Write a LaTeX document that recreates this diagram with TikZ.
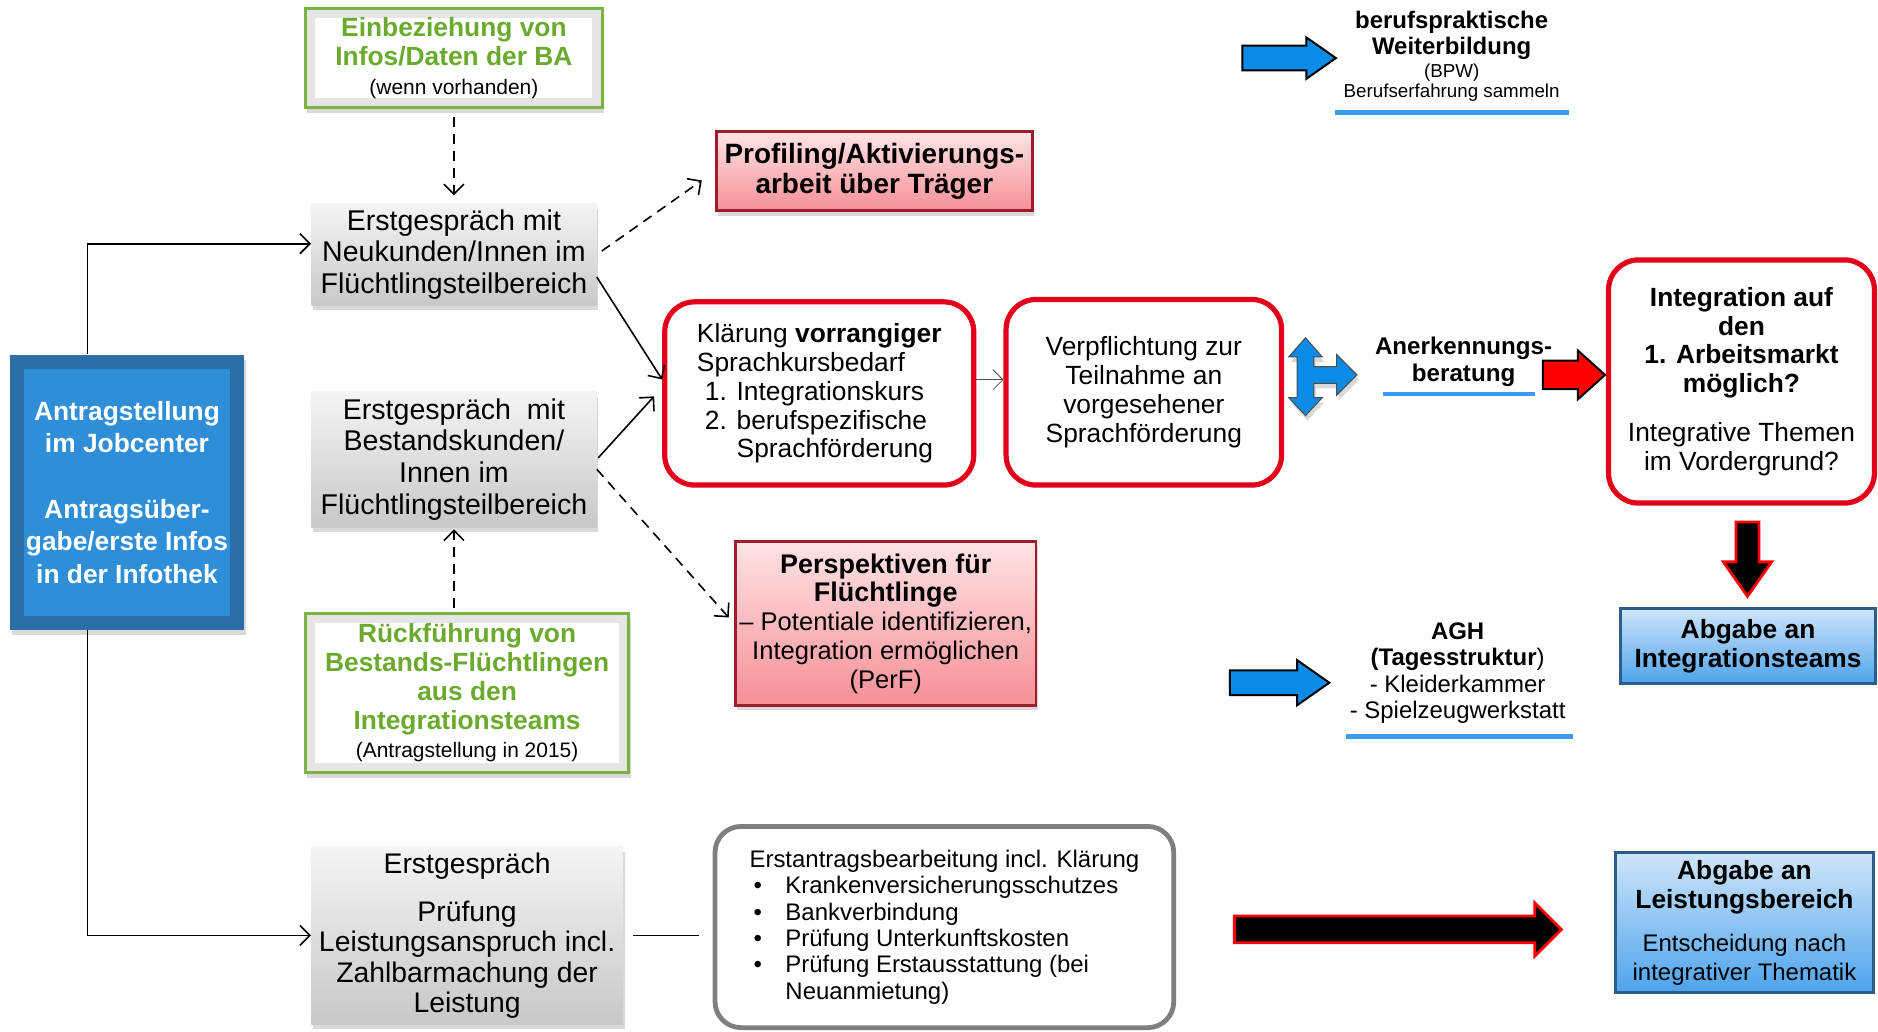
\documentclass[tikz,border=0pt]{standalone}
\usepackage{fontspec}
\setmainfont{Liberation Sans}
\usepackage{tikz}
\usetikzlibrary{arrows.meta,shapes.arrows,shadows,calc,positioning}

\definecolor{antrand}{HTML}{2B6EA8}
\definecolor{antblau}{HTML}{2E8FD8}
\definecolor{gruenrand}{HTML}{79B443}
\definecolor{gruentext}{HTML}{6AAB2D}
\definecolor{graulicht}{HTML}{F4F4F4}
\definecolor{graudunkel}{HTML}{C8C8C8}
\definecolor{rosa}{HTML}{FFE4E6}
\definecolor{rosadunkel}{HTML}{F58F96}
\definecolor{dunkelrot}{HTML}{9E1C2B}
\definecolor{signalrot}{HTML}{E2001A}
\definecolor{hellblau}{HTML}{CFE5F9}
\definecolor{mittelblau}{HTML}{4DA3EC}
\definecolor{blaurand}{HTML}{2C5E8C}
\definecolor{pfeilblau}{HTML}{0A8BE6}
\definecolor{balkenblau}{HTML}{3A9AF5}
\definecolor{rahmengrau}{HTML}{7F7F7F}

\newcommand{\aufz}{\hspace*{2pt}\makebox[16pt][l]{\textbullet}}
\newcommand{\klein}{\fontsize{10.5}{13}\selectfont}

\tikzset{
  abm/.style 2 args={minimum width=#1*0.6pt, minimum height=#2*0.6pt},
  schatten/.style={drop shadow={shadow xshift=1pt, shadow yshift=-2.5pt, opacity=0.3}},
  antragbox/.style={fill=antrand, inner sep=2pt, align=center, text=white,
    font=\bfseries\fontsize{13.2}{16.2}\selectfont, schatten,
    path picture={\fill[antblau] ([shift={(7pt,-7pt)}]path picture bounding box.north west)
      rectangle ([shift={(-7pt,7pt)}]path picture bounding box.south east);}},
  gruenbox/.style={fill=white, draw=gruenrand, line width=1.6pt, align=center, text=gruentext,
    font=\bfseries\fontsize{13.2}{14.4}\selectfont, schatten,
    path picture={\draw[black!10, line width=5pt] ([shift={(2.5pt,-2.5pt)}]path picture bounding box.north west)
      rectangle ([shift={(-2.5pt,2.5pt)}]path picture bounding box.south east);}},
  graubox/.style={top color=graulicht, bottom color=graudunkel, inner sep=2pt, align=center,
    font=\fontsize{14.3}{15.8}\selectfont, schatten},
  rotbox/.style={top color=rosa, bottom color=rosadunkel, draw=dunkelrot, line width=1.4pt,
    inner sep=2pt, align=center, font=\fontsize{12.8}{14.4}\selectfont, schatten},
  rundbox/.style={fill=white, draw=signalrot, line width=2.6pt, rounded corners=15pt,
    align=center, font=\fontsize{13.2}{14.4}\selectfont},
  graurund/.style={fill=white, draw=rahmengrau, line width=2.4pt, rounded corners=13pt,
    align=left, font=\fontsize{12}{13.2}\selectfont},
  blaubox/.style={top color=hellblau, bottom color=mittelblau, draw=blaurand, line width=1.5pt,
    inner sep=2pt, align=center, font=\fontsize{13.2}{14.4}\selectfont},
  blaupfeil/.style={single arrow, draw=black, line width=1pt, fill=pfeilblau,
    single arrow tip angle=70},
  schwarzpfeil/.style={single arrow, draw=red, line width=1.4pt, fill=black},
  verbinder/.style={line width=0.8pt, -{Straight Barb[length=5pt,width=10pt]}},
  gestrichelt/.style={verbinder, dash pattern=on 5pt off 3.5pt},
  balken/.style={fill=balkenblau},
}

\begin{document}
\begin{tikzpicture}[x=0.6pt,y=-0.6pt]
\useasboundingbox (0,0) rectangle (1568,861);

% linke Spalte
\node[antragbox, abm={196}{230}] (antrag) at (106,411)
  {Antragstellung\\im Jobcenter\\[16.8pt]Antragsüber-\\gabe/erste Infos\\in der Infothek};

% Erstgespraeche
\node[gruenbox, abm={248}{83}] (einb) at (379,48.5)
  {Einbeziehung von\\Infos/Daten der BA\\{\color{black}\mdseries\klein (wenn vorhanden)}};
\node[graubox, abm={238}{85}] (erst1) at (379,212.5)
  {Erstgespräch mit\\Neukunden/Innen im\\Flüchtlingsteilbereich};
\node[graubox, abm={238}{113}] (erst2) at (379,383.5)
  {Erstgespräch\ \ mit\\Bestandskunden/\\Innen im\\Flüchtlingsteilbereich};
\node[gruenbox, abm={270}{133}] (rueck) at (390,578.5)
  {Rückführung von\\Bestands-Flüchtlingen\\aus den\\Integrationsteams\\{\color{black}\mdseries\klein (Antragstellung in 2015)}};
\node[graubox, abm={260}{148}, font=\fontsize{14.2}{15.2}\selectfont] (erst3) at (390,781)
  {Erstgespräch\\[9pt]Prüfung\\Leistungsanspruch incl.\\Zahlbarmachung der\\Leistung};

% mittlere Spalte
\node[rotbox, abm={264}{66}, font=\bfseries\fontsize{14}{15}\selectfont] (prof) at (730,143)
  {Profiling/Aktivierungs-\\arbeit über Träger};
\node[rundbox, abm={258}{153}, align=left] (klaer) at (684,328.5)
  {Klärung \textbf{vorrangiger}\\Sprachkursbedarf\\\hspace*{4pt}1. Integrationskurs\\
   \hspace*{4pt}2. berufspezifische\\\hspace*{4pt}\phantom{2. }Sprachförderung};
\node[rundbox, abm={230}{155}] (verpf) at (955,327.5)
  {Verpflichtung zur\\Teilnahme an\\vorgesehener\\Sprachförderung};
\node[rotbox, abm={251}{137}] (persp) at (739.5,520.5)
  {\textbf{\fontsize{13.5}{15}\selectfont Perspektiven für}\\\textbf{\fontsize{13.5}{15}\selectfont Flüchtlinge}\\
   – Potentiale identifizieren,\\Integration ermöglichen\\(PerF)};
\node[graurund, abm={383}{168}] (antr2) at (788.5,774)
  {Erstantragsbearbeitung incl. Klärung\\\aufz Krankenversicherungsschutzes\\\aufz Bankverbindung\\
   \aufz Prüfung Unterkunftskosten\\\aufz Prüfung Erstausstattung (bei\\\hspace*{18pt}Neuanmietung)};

% rechte Spalte
\node[align=center, font=\fontsize{12}{13.2}\selectfont] (bpw) at (1212,47)
  {\textbf{berufspraktische}\\\textbf{Weiterbildung}\\[-2pt]{\fontsize{9.4}{9.6}\selectfont (BPW)}\\[-3pt]{\fontsize{9.4}{9.6}\selectfont Berufserfahrung sammeln}};
\node[align=center, font=\bfseries\fontsize{12.1}{13.2}\selectfont] (aner) at (1222,302)
  {Anerkennungs-\\beratung};
\node[rundbox, abm={222}{203}] (integ) at (1454,318.5)
  {\textbf{Integration auf}\\\textbf{den}\\\textbf{1. Arbeitsmarkt}\\\textbf{möglich?}\\[10pt]Integrative Themen\\im Vordergrund?};
\node[blaubox, abm={213}{63}] (abgint) at (1459.5,539.5)
  {\textbf{Abgabe an}\\\textbf{Integrationsteams}};
\node[align=center, font=\fontsize{12}{13.2}\selectfont] (agh) at (1217,562)
  {\textbf{AGH}\\\textbf{(Tagesstruktur})\\- Kleiderkammer\\- Spielzeugwerkstatt};
\node[blaubox, abm={215}{117}] (abgleist) at (1456.5,770.5)
  {\textbf{Abgabe an}\\\textbf{Leistungsbereich}\\[7pt]{\fontsize{12}{13}\selectfont Entscheidung nach}\\{\fontsize{12}{13}\selectfont integrativer Thematik}};

% Unterstreichungen
\fill[balken] (1115,92) rectangle (1310,96);
\fill[balken] (1155,327) rectangle (1282,331);
\fill[balken] (1124,613) rectangle (1313,617);

% Blockpfeile
\node[blaupfeil, inner sep=5.7pt, minimum height=78*0.6pt, single arrow head extend=4.2pt] (pfeilbpw) at (1069,48.5) {};
\node[blaupfeil, inner sep=5.7pt, minimum height=83*0.6pt, single arrow head extend=5.1pt] (pfeilagh) at (1061,570) {};
\node[blaupfeil, fill=red, inner sep=6.6pt, minimum height=52*0.6pt, single arrow head extend=5.1pt,
  single arrow tip angle=84] (pfeilrot) at (1307.5,313) {};
\node[schwarzpfeil, inner sep=5.1pt, shape border rotate=270, minimum height=62*0.6pt,
  single arrow head extend=6.3pt, single arrow tip angle=70] (pfeilab) at (1459,460) {};
\node[schwarzpfeil, inner sep=6pt, minimum height=273*0.6pt, single arrow head extend=6.6pt,
  single arrow tip angle=90] (pfeillang) at (1161.5,776) {};
% Dreifachpfeil
\path[fill=pfeilblau, draw=black!70, line width=0.5pt, schatten]
  (1090,282) -- (1104,298) -- (1097,298) -- (1097,306) -- (1116,306) -- (1116,296)
  -- (1133,313) -- (1116,330) -- (1116,320) -- (1097,320) -- (1097,332) -- (1104,332)
  -- (1090,347) -- (1076,332) -- (1083,332) -- (1083,298) -- (1076,298) -- cycle;

% Verbindungen
\draw[verbinder] ($(antrag.north west)!0.332!(antrag.north east)$) |- ([yshift=5.4pt]erst1.west);
\draw[verbinder] ($(antrag.south west)!0.332!(antrag.south east)$) |- (erst3.west);
\draw[gestrichelt, shorten <=4pt, shorten >=4pt] (einb.south) -- (erst1.north);
\draw[gestrichelt, shorten <=3pt, shorten >=8pt] (erst1.east) -- (prof.west);
\draw[verbinder] (erst1.-9) -- ([yshift=7pt]klaer.west);
\draw[verbinder, shorten <=1pt, shorten >=6pt] (erst2.east) -- ([yshift=3pt]klaer.west);
\draw[gestrichelt, shorten >=4pt] (erst2.-4) -- (persp.west);
\draw[gestrichelt, shorten <=2pt, shorten >=1pt] (erst2.south |- rueck.north) -- (erst2.south);
\draw[verbinder, line width=0.4pt, black!70] (klaer.5) -- (klaer.5 -| verpf.west);
\draw[line width=0.8pt, shorten <=5pt, shorten >=7pt] (erst3.east) -- (erst3.east -| antr2.west);
\end{tikzpicture}
\end{document}
